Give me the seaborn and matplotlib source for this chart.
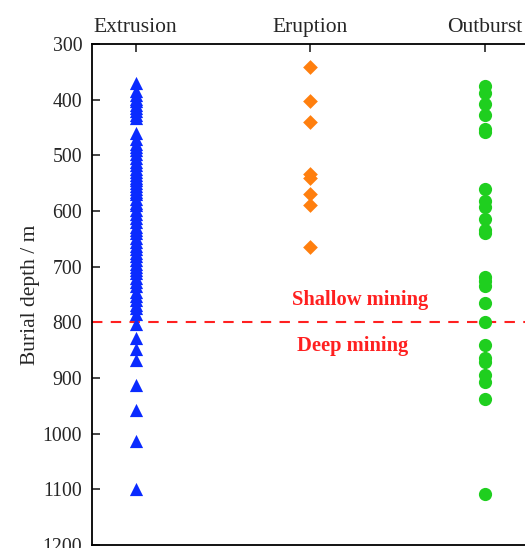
import matplotlib
matplotlib.use("Agg")
import matplotlib.pyplot as plt
import seaborn as sns
import pandas as pd

categories = ["Extrusion", "Eruption", "Outburst"]

extrusion = [370, 385, 392, 398, 403, 410, 415, 420, 427, 433, 460, 470, 480, 485,
             490, 498, 505, 512, 518, 525, 530, 535, 540, 545, 550, 555, 560, 565,
             570, 578, 585, 590, 598, 605, 612, 620, 628, 635, 640, 648, 655, 662,
             668, 675, 680, 688, 695, 700, 706, 712, 720, 728, 735, 745, 752, 760,
             768, 775, 785, 803, 828, 848, 868, 912, 958, 1013, 1100]
eruption = [342, 402, 440, 534, 541, 570, 589, 664]
outburst = [375, 388, 407, 428, 452, 458, 560, 582, 592, 614, 635, 640, 718, 726,
            735, 766, 800, 840, 864, 872, 895, 907, 937, 1108]

colors = ["#0a2bff", "#ff7f0e", "#1fcf1f"]
markers = ["^", "D", "o"]
sizes = [9.5, 7.5, 9.5]

yticks = [300, 400, 500, 600, 700, 800, 900, 1000, 1100, 1200]
threshold = 800

sns.set_theme(style="ticks")
plt.rcParams["font.family"] = ["Liberation Serif", "DejaVu Serif"]

fig = plt.figure(figsize=(5.25, 5.48), dpi=100)
ax = fig.add_axes([92 / 525, 3 / 548, 436.6 / 525, 501 / 548])

series = [extrusion, eruption, outburst]
for cat, vals, c, m, s in zip(categories, series, colors, markers, sizes):
    df = pd.DataFrame({"type": [cat] * len(vals), "depth": vals})
    sns.stripplot(data=df, x="type", y="depth", order=categories, jitter=False,
                  color=c, marker=m, size=s, linewidth=0, ax=ax, zorder=3)

ax.axhline(threshold, color="#ff2020", linestyle=(0, (5, 4)), linewidth=1.5, zorder=2)
ax.text(1.284, 760, "Shallow mining", color="#ff2020", fontweight="bold",
        fontsize=14.8, ha="center", va="center")
ax.text(1.244, 842, "Deep mining", color="#ff2020", fontweight="bold",
        fontsize=14.8, ha="center", va="center")

ax.set_xlim(-0.25, 2.25)
ax.set_ylim(1200, 300)
ax.set_yticks(yticks)
ax.set_xlabel("")
ax.set_ylabel("Burial depth / m", fontsize=15.5, labelpad=2)
ax.xaxis.tick_top()
ax.tick_params(axis="x", which="both", direction="in", length=6, width=1.2,
               labelsize=15.5, top=True, bottom=False, pad=5)
ax.tick_params(axis="y", direction="in", length=6, width=1.2, labelsize=14.3, pad=7)
for sp in ax.spines.values():
    sp.set_linewidth(1.3)
    sp.set_color("black")
    sp.set_visible(True)

fig.savefig("out.png", dpi=100)
